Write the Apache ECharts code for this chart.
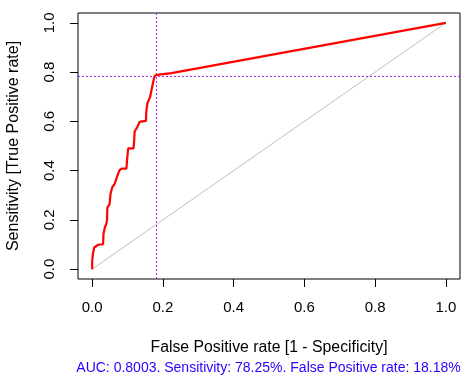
<!DOCTYPE html>
<html><head><meta charset="utf-8">
<script src="https://cdn.jsdelivr.net/npm/echarts@6/dist/echarts.min.js"></script>
<style>html,body{margin:0;padding:0;background:#fff}#c{width:473px;height:388px}</style>
</head><body><div id="c"></div>
<script>
// ROC curve points (False positive rate, sensitivity)
const fpr = [0,0,0.002,0.002,0.006,0.006,0.010,0.017,0.031,0.032,0.036,0.040,0.042,0.043,0.049,0.052,0.057,0.060,0.064,0.066,0.070,0.073,0.077,0.083,0.097,0.099,0.102,0.106,0.117,0.119,0.120,0.123,0.128,0.134,0.139,0.152,0.153,0.156,0.160,0.164,0.168,0.173,0.175,0.177,0.183,0.200,0.224,1];
const tpr = [0,0.031,0.035,0.061,0.065,0.088,0.095,0.099,0.101,0.143,0.170,0.183,0.200,0.251,0.262,0.306,0.333,0.340,0.347,0.350,0.374,0.378,0.401,0.408,0.408,0.449,0.490,0.490,0.490,0.525,0.558,0.562,0.578,0.598,0.602,0.602,0.639,0.673,0.680,0.700,0.728,0.730,0.776,0.785,0.789,0.792,0.796,1];
const diagX = [0,1];
const diagY = [0,1];
const cutSensitivity = 0.7825;
const cutFPR = 0.1818;
const axisMin = -0.04, axisMax = 1.04;
const tickValues = [0,0.2,0.4,0.6,0.8,1.0];
const tickLabels = ['0.0','0.2','0.4','0.6','0.8','1.0'];
const xTitle = 'False Positive rate [1 - Specificity]';
const yTitle = 'Sensitivity [True Positive rate]';
const subTitle = 'AUC: 0.8003. Sensitivity: 78.25%. False Positive rate: 18.18%';

const font = 'Liberation Sans, Arial, sans-serif';
const chart = echarts.init(document.getElementById('c'));
const fmt = v => { const i = tickValues.findIndex(t => Math.abs(t - v) < 1e-9); return i >= 0 ? tickLabels[i] : ''; };
const purple = {color: '#A020F0', width: 1, type: [2,2]};
chart.setOption({
  animation: false,
  grid: {left: 78, right: 13, top: 13, bottom: 109, show: true, borderColor: '#000', borderWidth: 1, backgroundColor: 'transparent'},
  xAxis: {type: 'value', min: axisMin, max: axisMax,
    axisLine: {show: false, onZero: false}, splitLine: {show: false},
    axisTick: {show: true, inside: false, length: 8, lineStyle: {color: '#000'}, customValues: tickValues},
    axisLabel: {show: true, margin: 21, color: '#000', fontSize: 15, fontFamily: font, customValues: tickValues, formatter: fmt}},
  yAxis: {type: 'value', min: axisMin, max: axisMax,
    axisLine: {show: false, onZero: false}, splitLine: {show: false},
    axisTick: {show: true, inside: false, length: 8, lineStyle: {color: '#000'}, customValues: tickValues},
    axisLabel: {show: true, margin: 21, rotate: 90, color: '#000', fontSize: 15, fontFamily: font, customValues: tickValues, formatter: fmt}},
  graphic: [
    {type: 'text', x: 269, y: 348, style: {text: xTitle, font: '15.8px ' + font, fill: '#000', textAlign: 'center', textVerticalAlign: 'middle'}},
    {type: 'text', x: 268.5, y: 368, style: {text: subTitle, font: '14px ' + font, fill: '#2a00ff', textAlign: 'center', textVerticalAlign: 'middle'}},
    {type: 'text', x: 14, y: 146, rotation: Math.PI/2, style: {text: yTitle, font: '16px ' + font, fill: '#000', textAlign: 'center', textVerticalAlign: 'middle'}}
  ],
  series: [
    {type: 'line', data: diagX.map((x,i)=>[x, diagY[i]]), symbol: 'none', lineStyle: {color: '#BEBEBE', width: 1}, silent: true, z: 1},
    {type: 'line', data: [[axisMin, cutSensitivity],[axisMax, cutSensitivity]], symbol: 'none', lineStyle: purple, silent: true, z: 2},
    {type: 'line', data: [[cutFPR, axisMin],[cutFPR, axisMax]], symbol: 'none', lineStyle: purple, silent: true, z: 2},
    {type: 'line', data: fpr.map((x,i)=>[x, tpr[i]]), symbol: 'none', lineStyle: {color: '#FF0000', width: 2.2}, z: 3}
  ]
});
</script></body></html>
